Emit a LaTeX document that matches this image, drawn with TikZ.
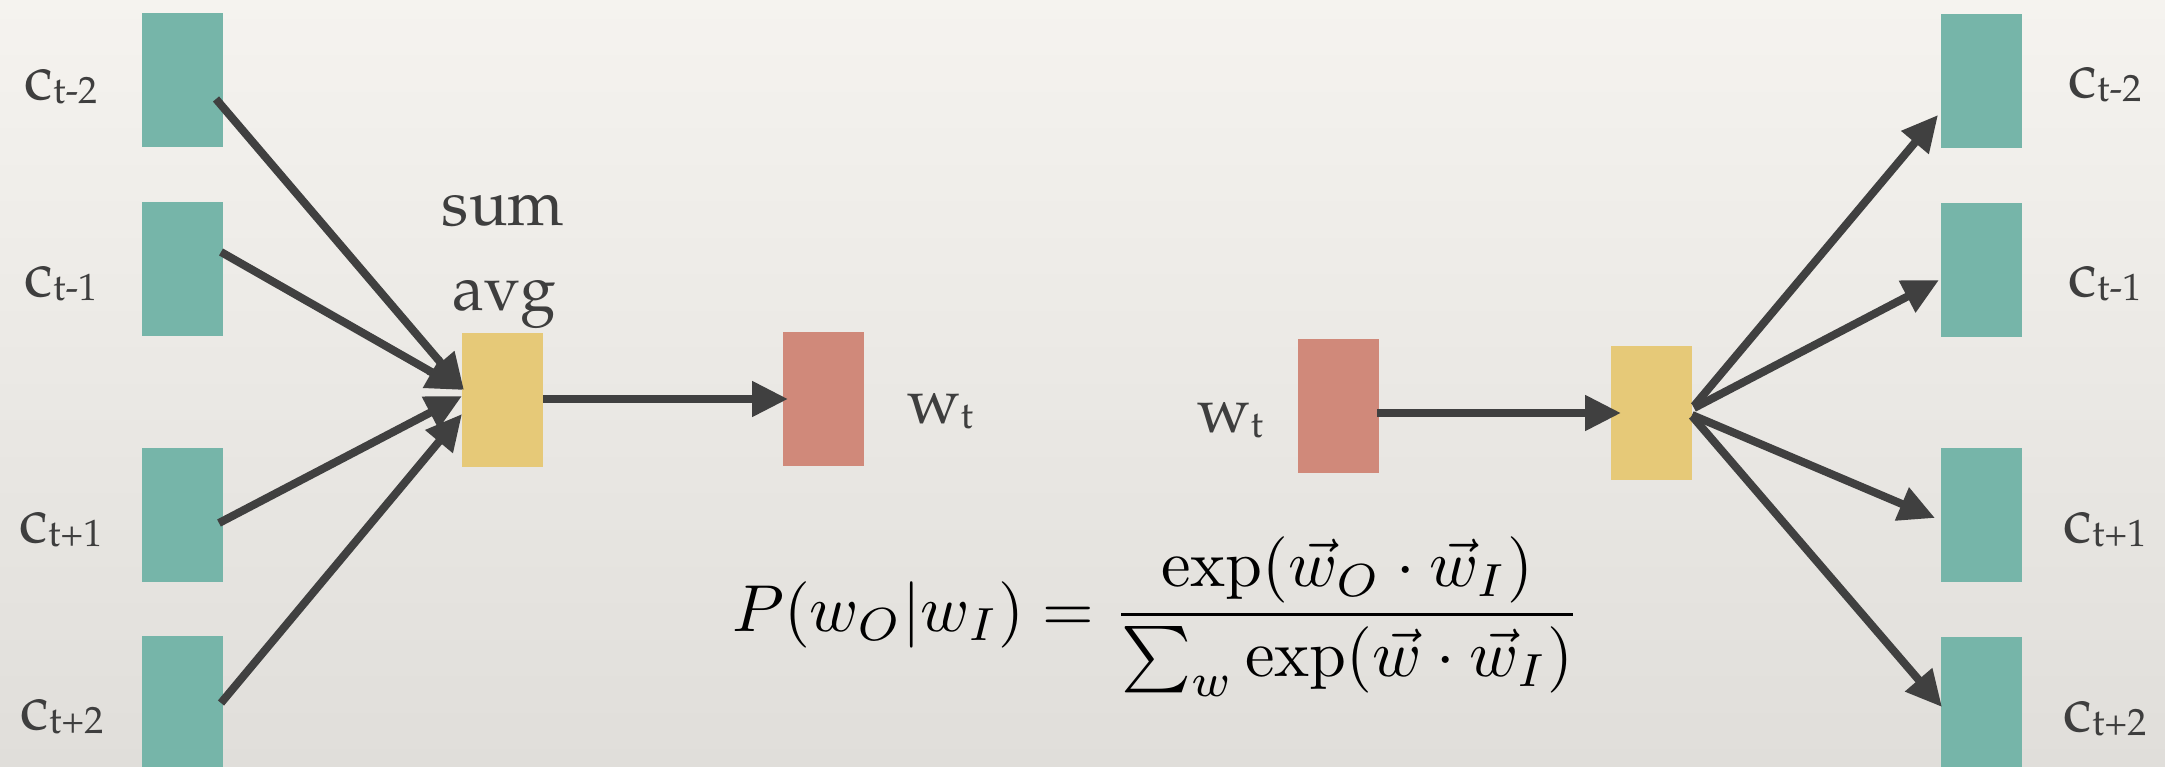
\documentclass[tikz,border=0pt]{standalone}
\usepackage[T1,TU]{fontenc}
\usepackage{amsmath}
\usetikzlibrary{arrows.meta,calc}
\definecolor{bgtop}{RGB}{245,243,239}
\definecolor{bgbot}{RGB}{224,222,218}
\definecolor{tealbox}{RGB}{118,181,169}
\definecolor{yellowbox}{RGB}{230,201,120}
\definecolor{redbox}{RGB}{208,137,122}
\definecolor{arrowgray}{RGB}{64,64,64}
\definecolor{textgray}{RGB}{62,62,62}
\newcommand\pal{\fontencoding{T1}\fontfamily{ppl}\selectfont}
\newcommand\csub[1]{c\raisebox{-4pt}{\fontsize{38}{38}\selectfont #1}}
\newcommand\wsub[1]{w\raisebox{-5pt}{\fontsize{38}{38}\selectfont #1}}
\tikzset{
  box/.style={draw=none, inner sep=0pt, outer sep=0pt, minimum width=81pt, minimum height=134pt, anchor=north west},
  ctx/.style={box, fill=tealbox},
  hid/.style={box, fill=yellowbox},
  wrd/.style={box, fill=redbox},
  lab/.style={inner sep=0pt, anchor=base, text=textgray, font=\pal\fontsize{64}{64}\selectfont},
  arr/.style={draw=arrowgray, line width=8pt, -{Triangle[length=36pt,width=34pt]}}
}
\begin{document}
\begin{tikzpicture}[x=1pt,y=-1pt]
\shade[top color=bgtop, bottom color=bgbot] (0,0) rectangle (2165,767);
\useasboundingbox (0,0) rectangle (2165,767);
% left CBOW
\node[ctx] (c1) at (142,13) {};
\node[ctx] (c2) at (142,202) {};
\node[ctx] (c3) at (142,448) {};
\node[ctx] (c4) at (142,636) {};
\node[hid] (yl) at (462,333) {};
\node[wrd] (rl) at (783,332) {};
\node[lab] (lc1) at (61,100) {\csub{t-2}};
\node[lab] (lc2) at (61,296) {\csub{t-1}};
\node[lab] (lc3) at (61,542) {\csub{t+1}};
\node[lab] (lc4) at (62,729) {\csub{t+2}};
\node[lab] (sum) at (503,226) {sum};
\node[lab] (avg) at (504,310) {avg};
\node[lab] (lw) at (940,423) {\wsub{t}};
\draw[arr] ([xshift=-7pt,yshift=-19pt]c1.east) -- ([xshift=2pt,yshift=10pt]yl.west);
\draw[arr] ([xshift=-2pt,yshift=17pt]c2.east) -- ([xshift=1pt,yshift=10pt]yl.west);
\draw[arr] ([xshift=-4pt,yshift=-8pt]c3.east) -- ([xshift=0pt,yshift=4pt]yl.west);
\draw[arr] ([xshift=-2pt]c4.east) -- ([xshift=0pt,yshift=-14pt]yl.west);
\draw[arr] ([yshift=1pt]yl.east) -- ($(yl.east -| rl.west)+(5,-1)$);
% right skip-gram
\node[wrd] (rr) at (1298,339) {};
\node[hid] (yr) at (1611,346) {};
\node[ctx] (d1) at (1941,14) {};
\node[ctx] (d2) at (1941,203) {};
\node[ctx] (d3) at (1941,448) {};
\node[ctx] (d4) at (1941,637) {};
\node[lab] (rw) at (1230,432) {\wsub{t}};
\node[lab] (rc1) at (2105,98) {\csub{t-2}};
\node[lab] (rc2) at (2105,296) {\csub{t-1}};
\node[lab] (rc3) at (2105,542) {\csub{t+1}};
\node[lab] (rc4) at (2105,731) {\csub{t+2}};
\draw[arr] ([xshift=-2pt,yshift=-7pt]rr.east) -- ([xshift=10pt]yr.west);
\draw[arr] ([xshift=2pt,yshift=7pt]yr.east) -- ([xshift=-3pt,yshift=-34pt]d1.west);
\draw[arr] ([xshift=2pt,yshift=5pt]yr.east) -- ([xshift=-2pt,yshift=-10pt]d2.west);
\draw[arr] ([yshift=-2pt]yr.east) -- ([xshift=-6pt,yshift=-3pt]d3.west);
\draw[arr] ([yshift=-3pt]yr.east) -- ([xshift=1pt,yshift=-3pt]d4.west);
% formula
\node[inner sep=0pt, anchor=base west] (eq) at (732,631) {\resizebox{849pt}{!}{$\displaystyle P(w_O|w_I) = \frac{\exp(\vec{w}_O\cdot\vec{w}_I)}{\sum_w \exp(\vec{w}\cdot\vec{w}_I)}$}};
\end{tikzpicture}
\end{document}
